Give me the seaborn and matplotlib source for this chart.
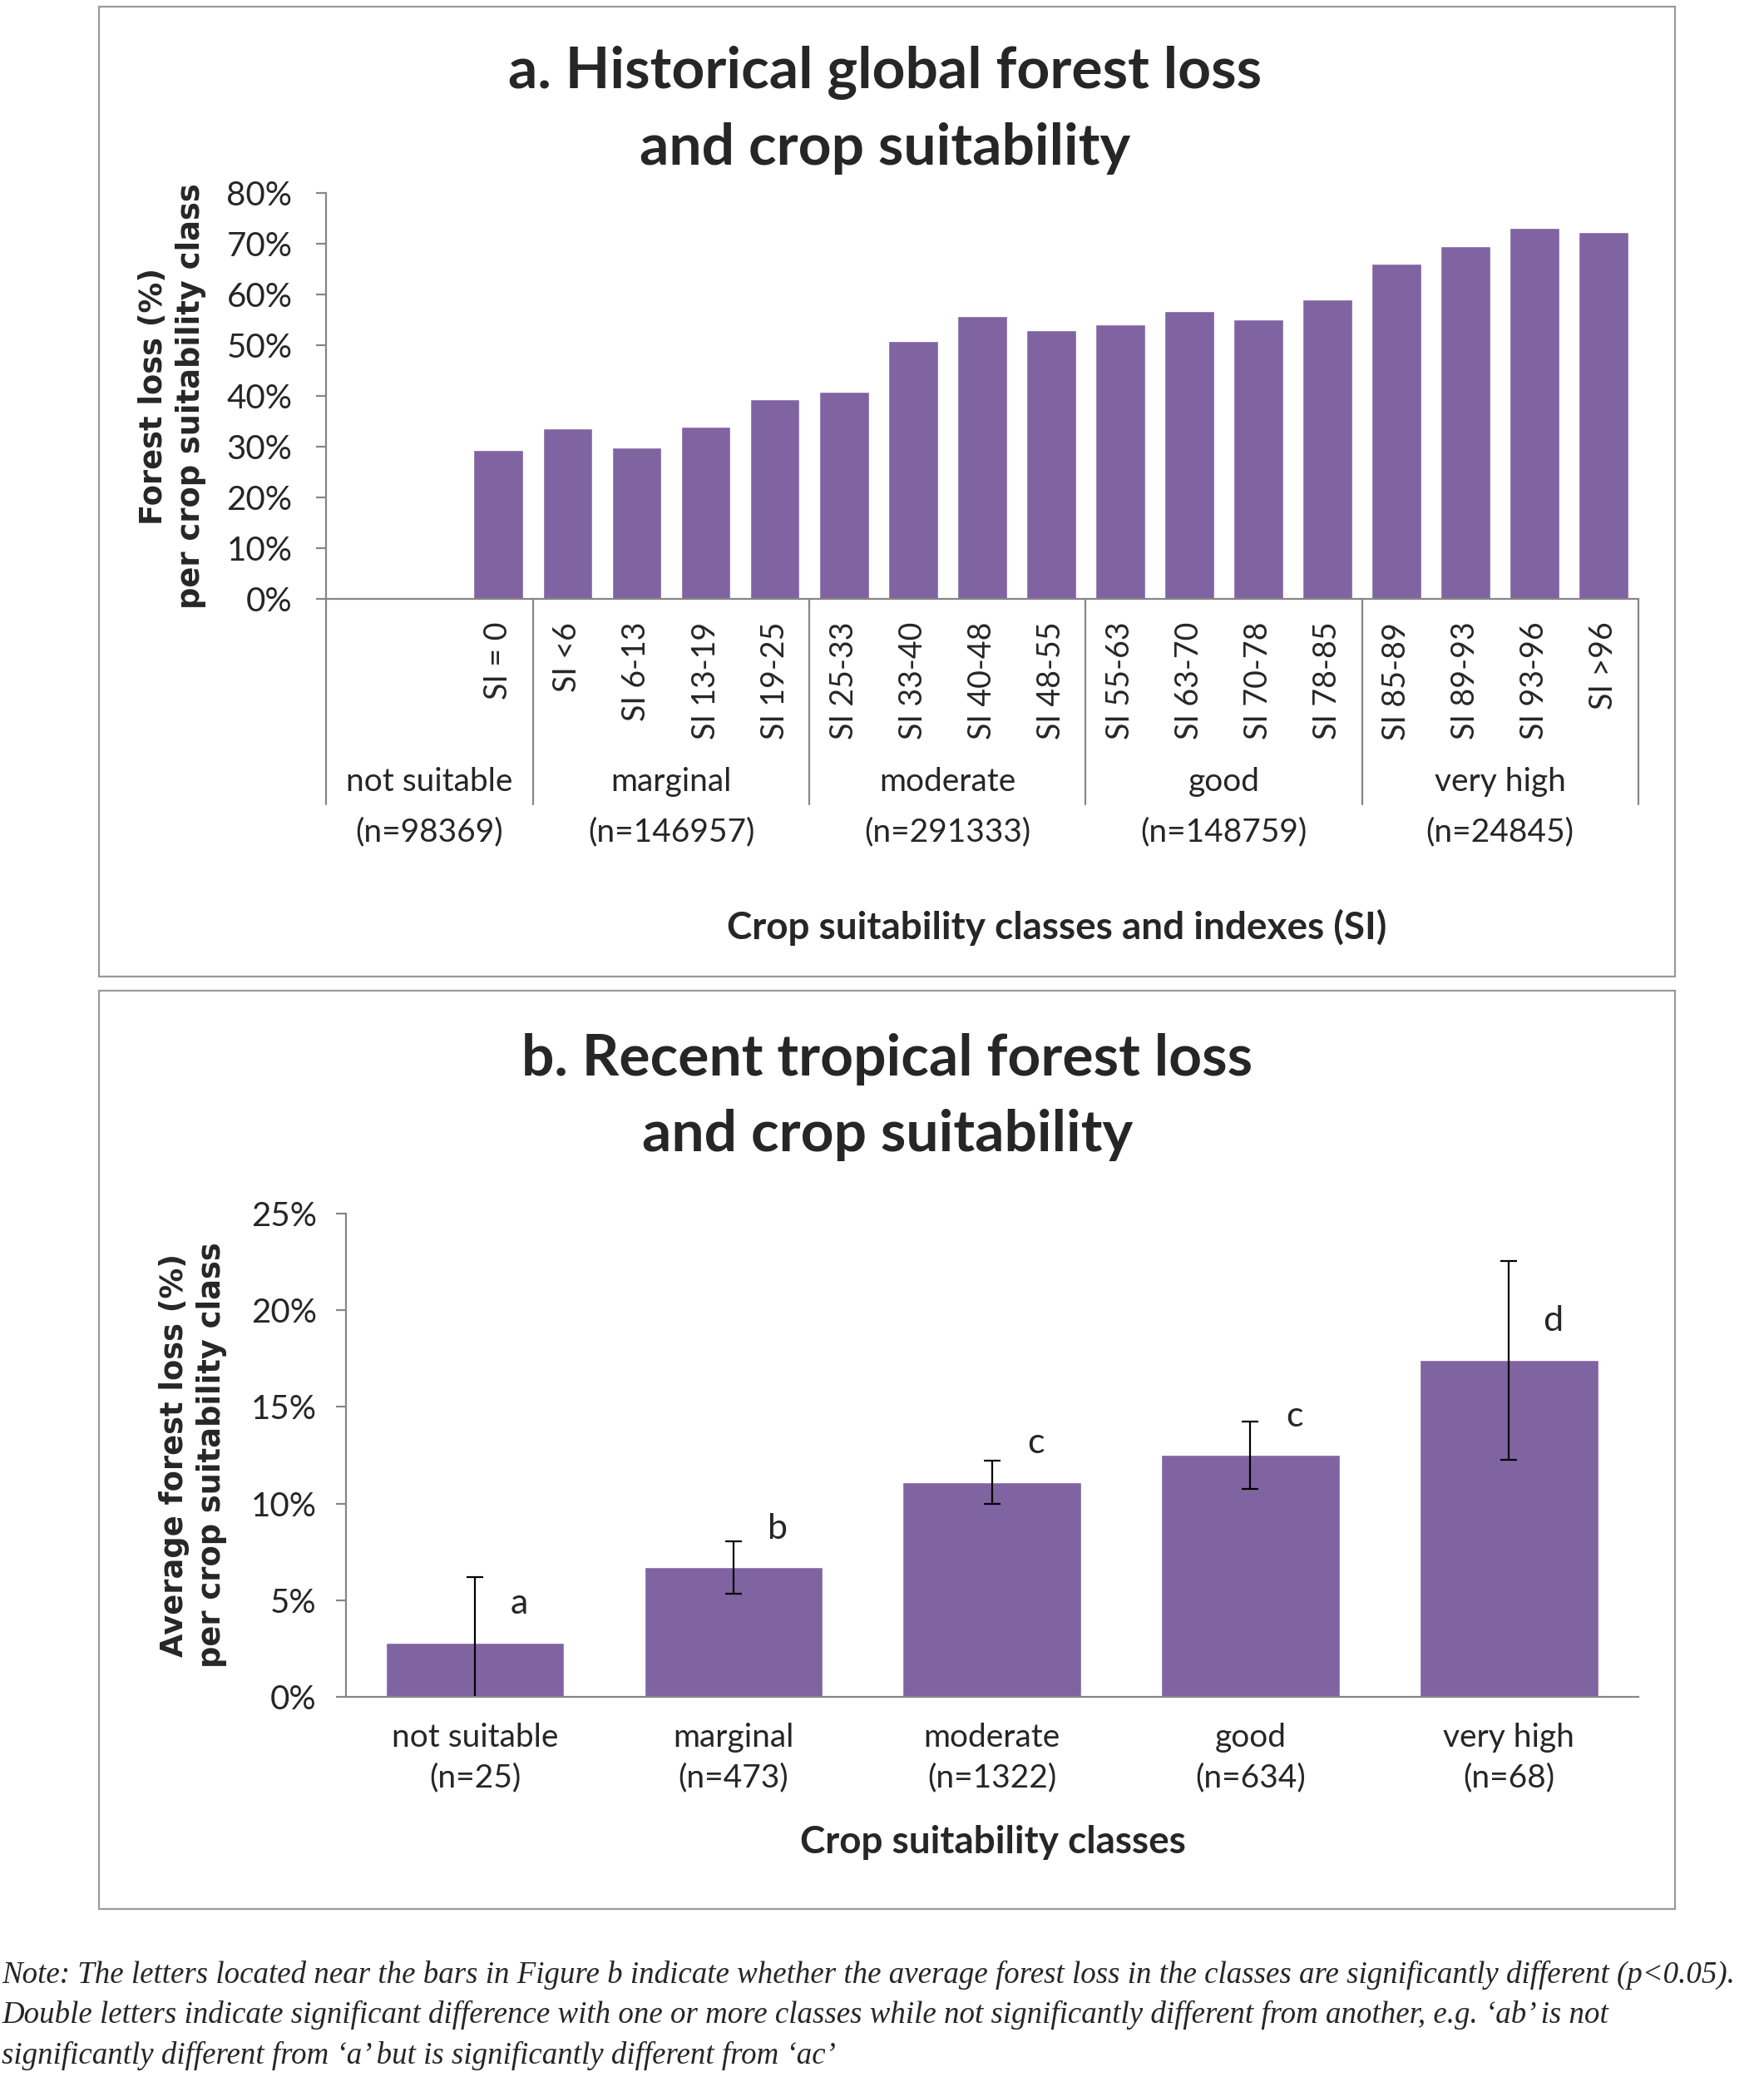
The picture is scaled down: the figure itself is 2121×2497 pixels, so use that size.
import matplotlib
matplotlib.use('Agg')
import numpy as np
import pandas as pd
import matplotlib.pyplot as plt
import seaborn as sns
from matplotlib.patches import Rectangle

# ---- panel a: historical global forest loss per SI class ----
si_labels = ['SI = 0', 'SI <6', 'SI 6-13', 'SI 13-19', 'SI 19-25', 'SI 25-33', 'SI 33-40',
             'SI 40-48', 'SI 48-55', 'SI 55-63', 'SI 63-70', 'SI 70-78', 'SI 78-85',
             'SI 85-89', 'SI 89-93', 'SI 93-96', 'SI >96']
hist_loss = [29.4, 33.6, 29.9, 34.0, 39.3, 40.9, 50.8, 55.8, 53.0, 54.2, 56.7, 55.1,
             59.1, 66.2, 69.6, 73.2, 72.3]
hist_groups = ['not suitable', 'marginal', 'moderate', 'good', 'very high']
hist_n = ['(n=98369)', '(n=146957)', '(n=291333)', '(n=148759)', '(n=24845)']
group_sizes = [3, 4, 4, 4, 4]
blank_slots = ['', ' ']

# ---- panel b: recent tropical forest loss per class ----
classes = ['not suitable', 'marginal', 'moderate', 'good', 'very high']
recent_n = ['(n=25)', '(n=473)', '(n=1322)', '(n=634)', '(n=68)']
recent_loss = [2.8, 6.7, 11.1, 12.5, 17.4]
recent_err = [3.4, 1.35, 1.1, 1.75, 5.15]
sig_letters = ['a', 'b', 'c', 'c', 'd']
letter_y = [4.8, 8.7, 13.1, 14.5, 19.45]

note = ["Note: The letters located near the bars in Figure b indicate whether the average forest loss in the classes are significantly different (p<0.05).",
        "Double letters indicate significant difference with one or more classes while not significantly different from another, e.g. \u2018ab\u2019 is not",
        "significantly different from \u2018a\u2019 but is significantly different from \u2018ac\u2019"]

PURPLE = '#8064A2'
AXCOL = '#868686'
NARROW = ['Liberation Sans Narrow', 'Lato', 'DejaVu Sans']
BOLD_T = ['Lato', 'DejaVu Sans']

sns.set_style('white')
plt.rcParams['font.family'] = ['Lato', 'DejaVu Sans']

fig = plt.figure(figsize=(21.21, 24.97), dpi=100)

# panel frames
for y0, y1 in [(0.5300, 0.9968), (0.0810, 0.5230)]:
    fig.patches.append(Rectangle((0.0563, y0), 0.9497 - 0.0563, y1 - y0, transform=fig.transFigure,
                                 fill=False, edgecolor='#9a9a9a', linewidth=1.6))


def style_axes(ax):
    sns.despine(ax=ax)
    for s in ['left', 'bottom']:
        ax.spines[s].set_color(AXCOL)
        ax.spines[s].set_linewidth(1.6)
    ax.tick_params(axis='y', direction='out', length=9, width=1.6, color=AXCOL, left=True)
    ax.tick_params(axis='x', length=0)
    for lab in ax.get_yticklabels():
        lab.set_family(NARROW)


# ---------- panel a ----------
ax1 = fig.add_axes([0.1847, 0.7117, 0.9287 - 0.1847, 0.1952])
df_a = pd.DataFrame({'si': si_labels, 'loss': hist_loss})
sns.barplot(data=df_a, x='si', y='loss', order=blank_slots + si_labels, color=PURPLE,
            saturation=1, width=0.72, ax=ax1)
ax1.set_xlim(-0.5, len(blank_slots) + len(si_labels) - 0.5)
ax1.set_ylim(0, 80)
ax1.set_yticks(range(0, 81, 10))
ax1.set_yticklabels([f'{v}%' for v in range(0, 81, 10)], fontsize=29)
ax1.set_xlabel('')
ax1.set_ylabel('')
ax1.set_xticks(range(len(blank_slots) + len(si_labels)))
ax1.set_xticklabels(blank_slots + si_labels, rotation=90, fontsize=27, va='top', ha='center')
ax1.tick_params(axis='x', pad=20)
style_axes(ax1)
ax1.tick_params(axis='y', pad=20)

bounds = np.concatenate([[0], np.cumsum(group_sizes)]) - 0.5
tr = ax1.get_xaxis_transform()
for b in bounds:
    ax1.plot([b, b], [0, -0.507], transform=tr, color=AXCOL, lw=1.6, clip_on=False)
for i, (g, n) in enumerate(zip(hist_groups, hist_n)):
    xc = (bounds[i] + bounds[i + 1]) / 2
    ax1.text(xc, -0.451, g, transform=tr, ha='center', va='center', fontsize=28, family=NARROW)
    ax1.text(xc, -0.575, n, transform=tr, ha='center', va='center', fontsize=28, family=NARROW)

ax1.text(-0.117, 0.5, 'Forest loss (%)\nper crop suitability class', transform=ax1.transAxes,
         rotation=90, ha='center', va='center', fontsize=26.5, fontweight='bold',
         family='DejaVu Sans', linespacing=1.3)

fig.text(0.5015, 0.9649, 'a. Historical global forest loss', ha='center', va='center',
         fontsize=50, fontweight='bold', family=BOLD_T)
fig.text(0.5015, 0.9286, 'and crop suitability', ha='center', va='center',
         fontsize=50, fontweight='bold', family=BOLD_T)
fig.text(0.599, 0.5536, 'Crop suitability classes and indexes (SI)', ha='center', va='center',
         fontsize=33, fontweight='bold', family=BOLD_T)

# ---------- panel b ----------
ax2 = fig.add_axes([0.1959, 0.1830, 0.9287 - 0.1959, 0.2328])
df_b = pd.DataFrame({'cls': classes, 'loss': recent_loss})
sns.barplot(data=df_b, x='cls', y='loss', order=classes, color=PURPLE, saturation=1,
            width=0.69, ax=ax2)
ax2.errorbar(x=np.arange(len(classes)), y=recent_loss, yerr=recent_err, fmt='none',
             ecolor='black', elinewidth=1.6, capsize=7, capthick=1.6)
ax2.set_xlim(-0.5, len(classes) - 0.5)
ax2.set_ylim(0, 25)
ax2.set_yticks(range(0, 26, 5))
ax2.set_yticklabels([f'{v}%' for v in range(0, 26, 5)], fontsize=29)
ax2.set_xlabel('')
ax2.set_ylabel('')
ax2.set_xticks(range(len(classes)))
ax2.set_xticklabels([f'{c}\n{n}' for c, n in zip(classes, recent_n)], fontsize=28,
                    linespacing=1.45)
for lab in ax2.get_xticklabels():
    lab.set_family(NARROW)
style_axes(ax2)
ax2.tick_params(axis='y', pad=16)
ax2.tick_params(axis='x', pad=22)

for i, (let, ly) in enumerate(zip(sig_letters, letter_y)):
    ax2.text(i + 0.17, ly, let, ha='center', va='center', fontsize=31, family=NARROW)

ax2.text(-0.118, 0.5, 'Average forest loss (%)\nper crop suitability class', transform=ax2.transAxes,
         rotation=90, ha='center', va='center', fontsize=26.5, fontweight='bold',
         family='DejaVu Sans', linespacing=1.3)

fig.text(0.503, 0.4898, 'b. Recent tropical forest loss', ha='center', va='center',
         fontsize=50, fontweight='bold', family=BOLD_T)
fig.text(0.503, 0.4534, 'and crop suitability', ha='center', va='center',
         fontsize=50, fontweight='bold', family=BOLD_T)
fig.text(0.563, 0.1129, 'Crop suitability classes', ha='center', va='center',
         fontsize=33, fontweight='bold', family=BOLD_T)

# footnote
for line, y in zip(note, [0.0491, 0.0300, 0.0102]):
    fig.text(0.001, y, line, ha='left', va='center', fontsize=26.6, style='italic',
             family=['Liberation Serif', 'DejaVu Serif'])

fig.savefig('out.png', dpi=100)
